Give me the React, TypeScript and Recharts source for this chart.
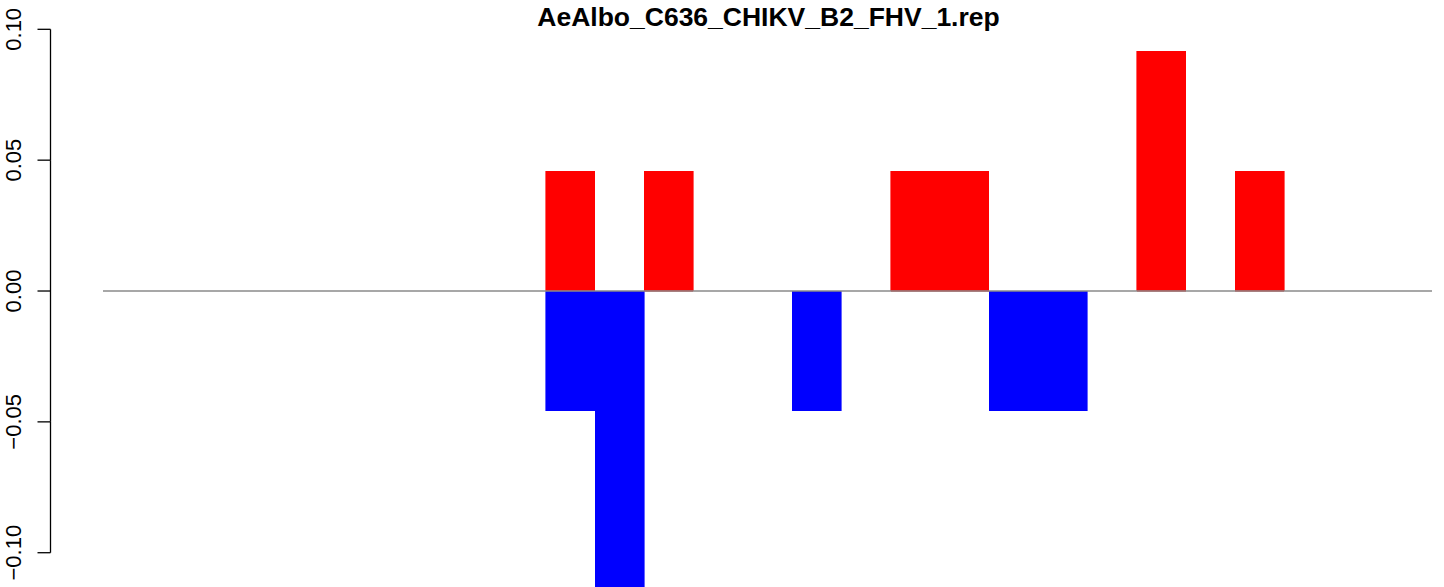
import React from 'react';
import { BarChart, Bar, XAxis, YAxis, ReferenceLine } from 'recharts';

// bar positions (25 slots, R barplot with space = 0)
const positions = Array.from({ length: 25 }, (_, i) => String(i + 1));

// red (up) and blue (down) values per slot
const upValues = [0, 0, 0, 0, 0, 0, 0, 0, 0.0458, 0, 0.0458, 0, 0, 0, 0, 0.0458, 0.0458, 0, 0, 0, 0.0916, 0, 0.0458, 0, 0];
const downValues = [0, 0, 0, 0, 0, 0, 0, 0, -0.0458, -0.1374, 0, 0, 0, -0.0458, 0, 0, 0, -0.0458, -0.0458, 0, 0, 0, 0, 0, 0];

const yTicks = [-0.1, -0.05, 0, 0.05, 0.1];
const tickText = ['\u22120.10', '\u22120.05', '0.00', '0.05', '0.10'];

const W = 1444;
const H = 587;
const yMin = -0.1131;
const yMax = 0.1112;

const data = positions.map((p, i) => ({ pos: p, up: upValues[i], down: downValues[i] }));

const pxPerUnit = H / (yMax - yMin);

// R style axis: line well left of the plot, rotated labels
const AxisTick = (props: any) => {
  const { y, payload } = props;
  const v = payload.value;
  const idx = yTicks.indexOf(v);
  const step = 0.05 * pxPerUnit;
  return (
    <g>
      <line x1={37.5} x2={50.5} y1={y} y2={y} stroke="#000" strokeWidth={1.3} />
      {v < 0.1 - 1e-9 && (
        <line x1={50.5} x2={50.5} y1={y} y2={y - step} stroke="#000" strokeWidth={1.3} />
      )}
      <text
        x={21}
        y={y}
        transform={`rotate(-90, 21, ${y})`}
        textAnchor="middle"
        fontSize={22}
        fontFamily="'Liberation Sans', Arial, sans-serif"
        fill="#000"
      >
        {tickText[idx]}
      </text>
    </g>
  );
};

export default function App() {
  return (
    <div style={{ position: 'absolute', left: 0, top: 0, width: W, height: H, background: '#fff' }}>
      <BarChart
        width={W}
        height={H}
        data={data}
        margin={{ top: 0, right: 12, bottom: 0, left: 0 }}
        stackOffset="sign"
        barCategoryGap={0}
        barGap={0}
      >
        <XAxis dataKey="pos" hide padding={{ left: 49, right: 49 }} />
        <YAxis
          width={103}
          domain={[yMin, yMax]}
          ticks={yTicks}
          interval={0}
          allowDataOverflow
          axisLine={false}
          tickLine={false}
          tick={<AxisTick />}
        />
        <Bar dataKey="up" stackId="s" fill="#ff0000" stroke="#ff0000" strokeWidth={0.6} shapeRendering="crispEdges" isAnimationActive={false} />
        <Bar dataKey="down" stackId="s" fill="#0000ff" stroke="#0000ff" strokeWidth={0.6} shapeRendering="crispEdges" isAnimationActive={false} />
        <ReferenceLine y={0} stroke="#8a8a8a" strokeWidth={1.3} />
      </BarChart>
      <div
        style={{
          position: 'absolute',
          left: 103,
          width: 1331,
          top: 1,
          textAlign: 'center',
          fontFamily: "'Liberation Sans', Arial, sans-serif",
          fontWeight: 'bold',
          fontSize: 26.5,
          lineHeight: '32px',
          color: '#000',
        }}
      >
        AeAlbo_C636_CHIKV_B2_FHV_1.rep
      </div>
    </div>
  );
}
